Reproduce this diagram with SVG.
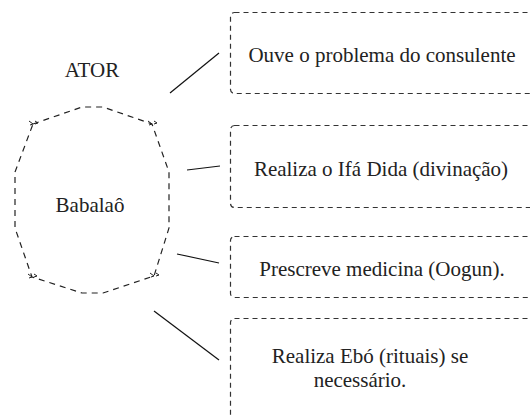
<svg xmlns="http://www.w3.org/2000/svg" width="530" height="416" viewBox="0 0 530 416">
<defs>
<path id="corner" d="M-4,-3 l4,3 l-3,1 M2,-3 l3,2 l-3,1" fill="none" stroke="#222" stroke-width="1"/>
</defs>
<g id="actor">
<text x="92" y="77" style="font-family:'Liberation Serif','Times New Roman','DejaVu Serif',serif;font-size:21px;fill:#222;text-anchor:middle">ATOR</text>
<path d="M33,124 L82,107 L103,107 L152,124 L169,172 L169,228 L154,276 L103,293 L82,293 L32,277 L15,228 L15,172 Z" fill="none" stroke="#222" stroke-width="1.2" stroke-dasharray="6 5"/>
<use href="#corner" x="33" y="124"/>
<use href="#corner" x="152" y="124"/>
<use href="#corner" x="32" y="277"/>
<use href="#corner" x="154" y="276"/>
<text x="90" y="212" style="font-family:'Liberation Serif','Times New Roman','DejaVu Serif',serif;font-size:21px;fill:#222;text-anchor:middle">Babalaô</text>
</g>
<g id="connectors" stroke="#111" stroke-width="1.2" fill="none">
<line x1="170" y1="93" x2="219" y2="53"/>
<line x1="187" y1="170" x2="220" y2="166"/>
<line x1="177" y1="254" x2="219" y2="263"/>
<line x1="154" y1="311" x2="219" y2="360"/>
</g>
<g id="n1">
<rect x="230.5" y="12.5" width="320" height="81" rx="4" fill="none" stroke="#333" stroke-width="1.2" stroke-dasharray="5 4"/>
<text x="382" y="62" style="font-family:'Liberation Serif','Times New Roman','DejaVu Serif',serif;font-size:21px;fill:#222;text-anchor:middle">Ouve o problema do consulente</text>
</g>
<g id="n2">
<rect x="230.5" y="125.5" width="320" height="82" rx="4" fill="none" stroke="#333" stroke-width="1.2" stroke-dasharray="5 4"/>
<text x="381" y="176" style="font-family:'Liberation Serif','Times New Roman','DejaVu Serif',serif;font-size:21px;fill:#222;text-anchor:middle">Realiza o Ifá Dida (divinação)</text>
</g>
<g id="n3">
<rect x="230.5" y="236.5" width="320" height="61" rx="4" fill="none" stroke="#333" stroke-width="1.2" stroke-dasharray="5 4"/>
<text x="382" y="276" style="font-family:'Liberation Serif','Times New Roman','DejaVu Serif',serif;font-size:21px;fill:#222;text-anchor:middle">Prescreve medicina (Oogun).</text>
</g>
<g id="n4">
<rect x="230.5" y="318.5" width="320" height="120" rx="4" fill="none" stroke="#333" stroke-width="1.2" stroke-dasharray="5 4"/>
<text x="370" y="363" style="font-family:'Liberation Serif','Times New Roman','DejaVu Serif',serif;font-size:21px;fill:#222;text-anchor:middle">Realiza Ebó (rituais) se</text>
<text x="360" y="387" style="font-family:'Liberation Serif','Times New Roman','DejaVu Serif',serif;font-size:21px;fill:#222;text-anchor:middle">necessário.</text>
</g>
</svg>
